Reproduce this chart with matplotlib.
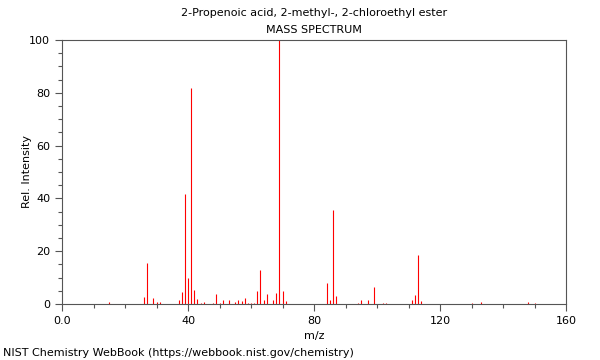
import matplotlib
matplotlib.use("Agg")
import matplotlib.pyplot as plt
from matplotlib.ticker import MultipleLocator

# peaks
mz = [15, 26, 27, 29, 30, 31, 37, 38, 39, 40, 41, 42, 43, 44, 45,
      48, 49, 50, 51, 53, 55, 56, 57, 58, 59, 60, 61, 62, 63, 64, 65,
      67, 68, 69, 70, 71, 84, 85, 86, 87, 94, 95, 97, 99, 102, 103,
      111, 112, 113, 114, 130, 133, 148, 150]
intensity = [0.9, 2.8, 15.6, 2.1, 0.6, 0.6, 1.7, 4.7, 41.7, 9.8, 81.8, 5.3, 2.0, 0.5, 0.9,
             0.4, 3.9, 0.5, 1.6, 1.5, 0.8, 1.6, 1.1, 2.3, 0.5, 0.4, 0.5, 4.9, 13.0, 1.6, 3.9,
             1.6, 4.3, 100, 4.9, 1.1, 7.8, 1.6, 35.5, 3.2, 0.4, 1.6, 1.6, 6.5, 0.5, 0.5,
             1.4, 3.5, 18.4, 1.3, 0.5, 0.8, 0.8, 0.3]

compound = "2-Propenoic acid, 2-methyl-, 2-chloroethyl ester"

fig = plt.figure(figsize=(6, 3.6), dpi=100)
ax = fig.add_axes([62 / 600, 1 - 304 / 360, 504 / 600, 264 / 360])

ax.vlines(mz, 0, intensity, color="red", linewidth=0.8)

ax.set_xlim(0, 160)
ax.set_ylim(0, 100)
ax.xaxis.set_major_locator(MultipleLocator(40))
ax.xaxis.set_minor_locator(MultipleLocator(10))
ax.yaxis.set_major_locator(MultipleLocator(20))
ax.yaxis.set_minor_locator(MultipleLocator(5))
ax.xaxis.set_major_formatter(lambda v, p: f"{v:.1f}" if v == 0 else f"{v:.0f}")

for s in ax.spines.values():
    s.set_color("#555555")
    s.set_linewidth(0.8)
ax.tick_params(which="major", length=5, width=0.8, color="#555555", labelsize=8)
ax.tick_params(which="minor", length=3, width=0.8, color="#555555")

ax.set_xlabel("m/z", fontsize=8)
ax.set_ylabel("Rel. Intensity", fontsize=8)
ax.yaxis.set_label_coords(-30 / 504, 0.5)

fig.text(314 / 600, 1 - 13 / 360, compound, ha="center", va="center", fontsize=8)
fig.text(314 / 600, 1 - 30 / 360, "MASS SPECTRUM", ha="center", va="center", fontsize=8)
fig.text(3 / 600, 1 - 353 / 360, "NIST Chemistry WebBook (https://webbook.nist.gov/chemistry)",
         ha="left", va="center", fontsize=8)

fig.savefig("out.png", dpi=100)
